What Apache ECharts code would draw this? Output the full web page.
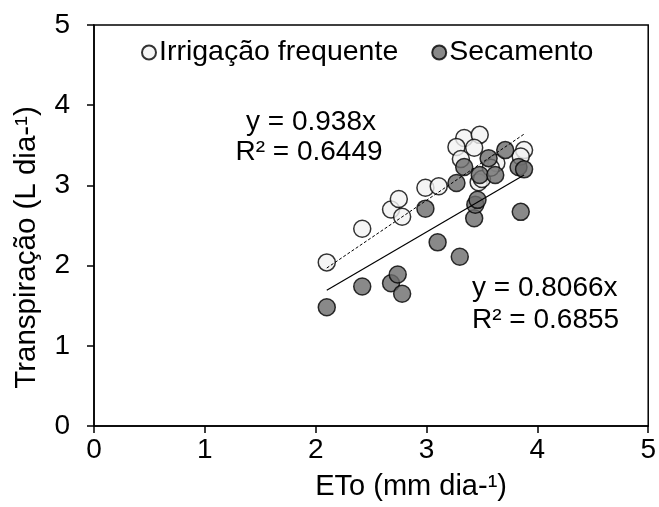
<!DOCTYPE html>
<html>
<head>
<meta charset="utf-8">
<script src="https://cdn.jsdelivr.net/npm/echarts@6/dist/echarts.min.js"></script>
<style>
html,body{margin:0;padding:0;background:#fff;}
#chart{width:659px;height:507px;}
</style>
</head>
<body>
<div id="chart"></div>
<script>
// Data
const seriesNames = ["Irrigação frequente", "Secamento"];
const irrigX = [2.10, 2.42, 2.68, 2.75, 2.78, 2.99, 3.11, 3.34, 3.48, 3.27, 3.43, 3.31, 3.63, 3.88, 3.85, 3.47, 3.50, 3.58];
const irrigY = [2.04, 2.46, 2.70, 2.83, 2.61, 2.97, 2.99, 3.59, 3.63, 3.48, 3.47, 3.33, 3.28, 3.44, 3.36, 3.04, 3.08, 3.22];
const secX = [2.10, 2.42, 2.68, 2.74, 2.78, 2.99, 3.10, 3.30, 3.43, 3.44, 3.46, 3.85, 3.27, 3.34, 3.48, 3.56, 3.62, 3.71, 3.83, 3.88];
const secY = [1.48, 1.74, 1.78, 1.89, 1.65, 2.71, 2.29, 2.11, 2.59, 2.76, 2.82, 2.67, 3.03, 3.23, 3.13, 3.34, 3.13, 3.44, 3.23, 3.20];
const trendSlopes = [0.938, 0.8066];
const trendR2 = ["0.6449", "0.6855"];
const xTicks = [0, 1, 2, 3, 4, 5];
const yTicks = [0, 1, 2, 3, 4, 5];
const xTitle = "ETo (mm dia-¹)";
const yTitle = "Transpiração (L dia-¹)";

const FONT = "Liberation Sans, Arial, sans-serif";
const FS = 28;

function pairs(xs, ys){ return xs.map((x,i)=>[x, ys[i]]); }
function trend(xs, slope){
  const lo = Math.min(...xs), hi = Math.max(...xs);
  return [[lo, slope*lo], [hi, slope*hi]];
}

const chart = echarts.init(document.getElementById('chart'), null, {renderer:'canvas'});
const axisCommon = {
  min: 0, max: 5, interval: 1,
  axisLine: {show:true, onZero:false, lineStyle:{color:'#000', width:1.5}},
  axisTick: {show:true, inside:false, length:7, lineStyle:{color:'#000', width:1.5}},
  splitLine: {show:false},
  nameLocation: 'middle'
};
chart.setOption({
  animation: false,
  backgroundColor: '#fff',
  textStyle: {fontFamily: FONT},
  grid: {left:94, right:9, top:25, bottom:81, show:true, borderColor:'#000', borderWidth:1.5, backgroundColor:'transparent'},
  legend: {
    data: seriesNames,
    left: 141, top: 38, padding: 0,
    itemGap: 33, itemWidth: 14, itemHeight: 14,
    icon: 'circle',
    textStyle: {color:'#000', fontFamily:FONT, fontSize:FS + 0.5, padding:[0,0,0,-2]}
  },
  xAxis: Object.assign({}, axisCommon, {
    type:'value', name: xTitle, nameGap: 46,
    nameTextStyle: {color:'#000', fontFamily:FONT, fontSize:29, padding:[0,0,0,80]},
    axisLabel: {color:'#000', fontFamily:FONT, fontSize:FS, margin:10,
      formatter: v => xTicks.includes(v) ? String(v) : ''}
  }),
  yAxis: Object.assign({}, axisCommon, {
    type:'value', name: yTitle, nameGap: 52, nameRotate: 90,
    nameTextStyle: {color:'#000', fontFamily:FONT, fontSize:29.5, padding:[0,44,0,0]},
    axisLabel: {color:'#000', fontFamily:FONT, fontSize:FS, margin:24,
      formatter: v => yTicks.includes(v) ? String(v) : ''}
  }),
  series: [
    {
      name: seriesNames[0], type:'scatter', data: pairs(irrigX, irrigY),
      symbol:'circle', symbolSize:17, z:2,
      itemStyle:{color:'#f2f2f2', borderColor:'#000', borderWidth:1.5}
    },
    {
      name: seriesNames[1], type:'scatter', data: pairs(secX, secY),
      symbol:'circle', symbolSize:17, z:3,
      itemStyle:{color:'#6b6b6b', borderColor:'#000', borderWidth:1.5}
    },
    {
      name:'trend1', type:'line', data: trend(irrigX, trendSlopes[0]),
      symbol:'none', z:4, silent:true,
      lineStyle:{color:'#000', width:1, type:[3,2]}
    },
    {
      name:'trend2', type:'line', data: trend(secX, trendSlopes[1]),
      symbol:'none', z:4, silent:true,
      lineStyle:{color:'#000', width:1.2, type:'solid'}
    }
  ],
  graphic: [
    {type:'text', style:{text:'y = ' + trendSlopes[0] + 'x', x:311, y:122, textAlign:'center', textVerticalAlign:'middle', fontFamily:FONT, fontSize:FS, fill:'#000'}, z:10},
    {type:'text', style:{text:'R² = ' + trendR2[0], x:309, y:152, textAlign:'center', textVerticalAlign:'middle', fontFamily:FONT, fontSize:FS, fill:'#000'}, z:10},
    {type:'text', style:{text:'y = ' + trendSlopes[1] + 'x', x:472, y:288, textAlign:'left', textVerticalAlign:'middle', fontFamily:FONT, fontSize:FS, fill:'#000'}, z:10},
    {type:'text', style:{text:'R² = ' + trendR2[1], x:472, y:320, textAlign:'left', textVerticalAlign:'middle', fontFamily:FONT, fontSize:FS, fill:'#000'}, z:10}
  ]
});
</script>
</body>
</html>
